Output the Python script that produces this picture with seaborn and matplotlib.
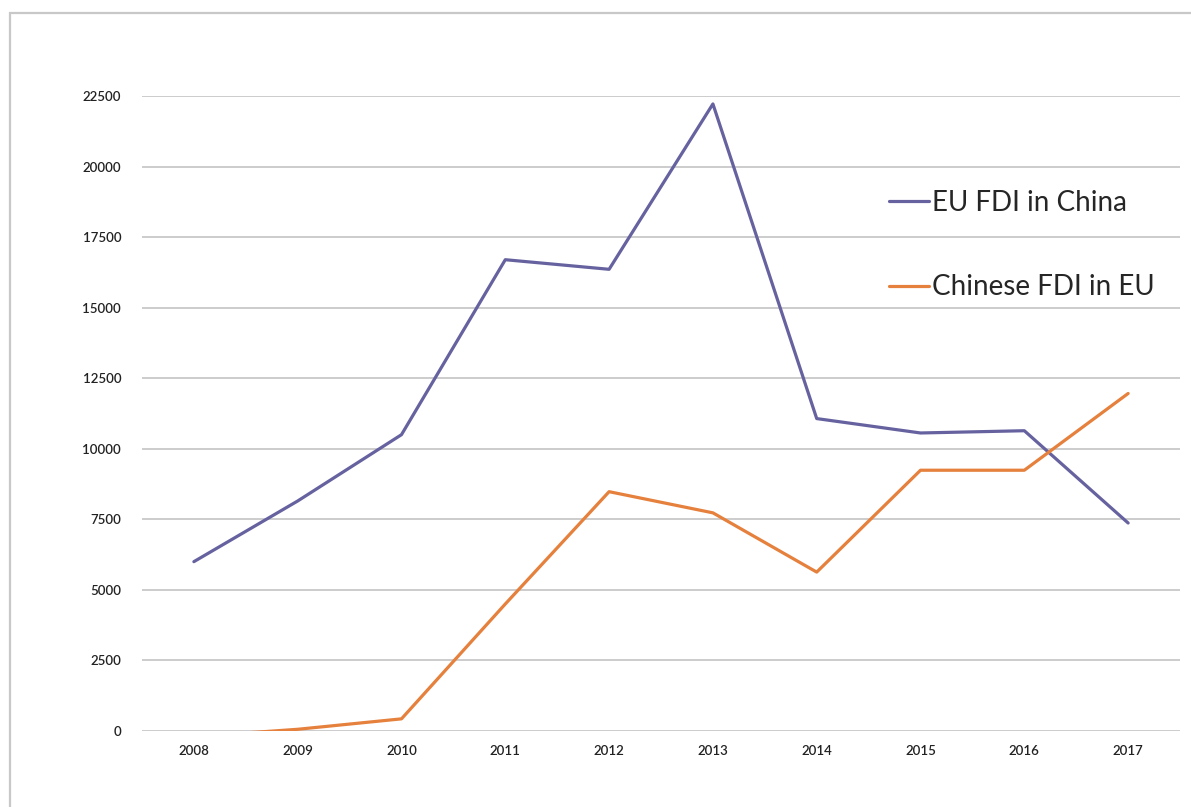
import pandas as pd
import numpy as np
import matplotlib
matplotlib.use('Agg')
import matplotlib.pyplot as plt
import seaborn as sns
from matplotlib.patches import Rectangle
from matplotlib.lines import Line2D

# data
years = [2008, 2009, 2010, 2011, 2012, 2013, 2014, 2015, 2016, 2017]
eu_fdi_china = [6000, 8150, 10500, 16700, 16360, 22220, 11070, 10560, 10640, 7370]
china_fdi_eu = [-200, 60, 430, 4500, 8480, 7730, 5630, 9240, 9240, 11960]
series_names = ['EU FDI in China', 'Chinese FDI in EU']

df = pd.DataFrame({
    'year': years * 2,
    'value': eu_fdi_china + china_fdi_eu,
    'series': [series_names[0]] * len(years) + [series_names[1]] * len(years),
})

sns.set_theme(style='white')
plt.rcParams['font.family'] = ['Lato', 'DejaVu Sans']

fig = plt.figure(figsize=(11.91, 8.07), dpi=100)
ax = fig.add_axes([0.1192, 0.0942, 0.8716, 0.7868])

palette = {series_names[0]: '#66629f', series_names[1]: '#e5803d'}
sns.lineplot(data=df, x='year', y='value', hue='series', palette=palette,
             linewidth=2.3, ax=ax, legend=False)

ax.set_xlim(2007.5, 2017.5)
ax.set_ylim(0, 22500)
ax.set_yticks(np.arange(0, 22501, 2500))
ax.set_xticks(years)
ax.set_xticklabels([str(y) for y in years])
ax.yaxis.grid(True, color='#c4c4c4', linewidth=1.2)
ax.set_axisbelow(True)
for s in ax.spines.values():
    s.set_visible(False)
ax.tick_params(axis='both', length=0, labelsize=9.5, colors='#222222')
ax.tick_params(axis='y', pad=15)
ax.tick_params(axis='x', pad=10)
for lab in ax.get_xticklabels() + ax.get_yticklabels():
    lab.set_fontweight('semibold')
ax.set_xlabel('')
ax.set_ylabel('')

# legend on the right, no frame
handles = [Line2D([], [], color=palette[n], linewidth=2.3) for n in series_names]
ax.legend(handles, series_names, loc='upper left', bbox_to_anchor=(889 / 1191, 1 - 190 / 807),
          bbox_transform=fig.transFigure, frameon=False, fontsize=20,
          handlelength=1.45, handletextpad=0.1, labelspacing=2.1,
          borderaxespad=0, borderpad=0)

# light outer frame (left and top edges visible)
fig.patches.append(Rectangle((10 / 1191, -0.05), 1.2, 1 - 13 / 807 + 0.05,
                             transform=fig.transFigure, fill=False,
                             edgecolor='#c8c8c8', linewidth=1.6))

fig.savefig('out.png', dpi=100)
